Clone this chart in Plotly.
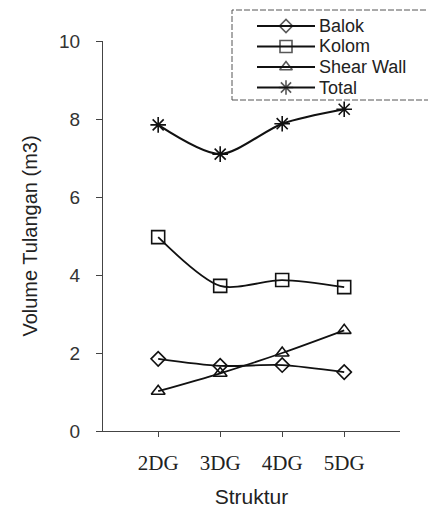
import plotly.graph_objects as go

# Reinforcement volume per structure type
struktur = ["2DG", "3DG", "4DG", "5DG"]
balok = [1.85, 1.67, 1.69, 1.51]
kolom = [4.97, 3.72, 3.87, 3.69]
shear_wall = [1.02, 1.48, 2.0, 2.58]
total = [7.85, 7.1, 7.88, 8.25]

series = [
    ("Balok", balok, "diamond-open", 11),
    ("Kolom", kolom, "square-open", 13),
    ("Shear Wall", shear_wall, "triangle-up-open", 12),
    ("Total", total, "asterisk-open", 13),
]

W, H = 428, 515
# main plot box in page pixels
PL, PR, PT, PB = 103, 400, 41, 431


def px_to_paper(x, y):
    return x / W, (H - y) / H


fig = go.Figure()
for name, vals, sym, size in series:
    fig.add_trace(go.Scatter(
        x=struktur, y=vals, name=name, mode="lines+markers", showlegend=False,
        line=dict(color="#111", width=1.8 if name != "Total" else 2.2,
                  shape="spline", smoothing=0.8),
        marker=dict(symbol=sym, size=size, color="#111",
                    line=dict(color="#111", width=1.6)),
    ))

# Hand-built legend (longer key lines, tighter rows than the built-in one)
box_l, box_t, box_r, box_b = 232, 10, 432, 100
bx0, by0 = px_to_paper(box_l, box_b)
bx1, by1 = px_to_paper(box_r, box_t)
shapes = [dict(type="rect", xref="paper", yref="paper", x0=bx0, y0=by0, x1=bx1, y1=by1,
               line=dict(color="#555", width=1, dash="6px,2px"), fillcolor="white",
               layer="below")]
annotations = []
key_x0, key_x1, text_x = 257, 315, 318
row0, row_step = 26, 20.5
mk_x, mk_y, mk_sym, mk_size = [], [], [], []
for i, (name, vals, sym, size) in enumerate(series):
    ry = row0 + i * row_step
    lx0, ly = px_to_paper(key_x0, ry)
    lx1, _ = px_to_paper(key_x1, ry)
    shapes.append(dict(type="line", xref="paper", yref="paper", x0=lx0, x1=lx1, y0=ly, y1=ly,
                       line=dict(color="#111", width=1.8), layer="below"))
    tx, ty = px_to_paper(text_x, ry)
    annotations.append(dict(xref="paper", yref="paper", x=tx, y=ty, text=name,
                            showarrow=False, xanchor="left", yanchor="middle", borderpad=0,
                            font=dict(size=18, color="#222")))
    mk_x.append((key_x0 + key_x1) / 2)
    mk_y.append(ry)
    mk_sym.append(sym)
    mk_size.append(size - 1)

# Legend key markers live on a full-page pixel subplot
fig.add_trace(go.Scatter(
    x=mk_x, y=mk_y, xaxis="x2", yaxis="y2", mode="markers", showlegend=False,
    hoverinfo="skip",
    marker=dict(symbol=mk_sym, size=mk_size, color="#111",
                line=dict(color="#111", width=1.6)),
))

fig.update_layout(
    width=W, height=H,
    margin=dict(l=0, r=0, t=0, b=0, pad=0, autoexpand=False),
    paper_bgcolor="white", plot_bgcolor="rgba(0,0,0,0)",
    font=dict(family="Liberation Sans, Arial, sans-serif", color="#222"),
    showlegend=False,
    shapes=shapes,
    annotations=annotations,
    xaxis=dict(
        domain=[PL / W, PR / W], anchor="y",
        type="category", range=[-0.89, 3.9],
        showgrid=False, zeroline=False,
        showline=True, linecolor="#444", linewidth=1,
        ticks="outside", ticklen=5, tickcolor="#444",
        tickfont=dict(family="Liberation Serif, Times New Roman, serif", size=21, color="#222"),
        ticklabelstandoff=8,
        title=dict(text="Struktur", font=dict(size=21, color="#222"), standoff=15),
    ),
    yaxis=dict(
        domain=[(H - PB) / H, (H - PT) / H], anchor="x",
        range=[0, 10], tickvals=[0, 2, 4, 6, 8, 10],
        showgrid=False, zeroline=False,
        showline=True, linecolor="#444", linewidth=1,
        ticks="outside", ticklen=6, tickcolor="#444",
        tickfont=dict(size=19, color="#333"),
        ticklabelstandoff=12,
        title=dict(text="Volume Tulangan (m3)", font=dict(size=20, color="#222"), standoff=16),
    ),
    xaxis2=dict(domain=[0, 1], anchor="y2", range=[0, W], visible=False, fixedrange=True),
    yaxis2=dict(domain=[0, 1], anchor="x2", range=[H, 0], visible=False, fixedrange=True),
)

fig.write_html("out.html")
